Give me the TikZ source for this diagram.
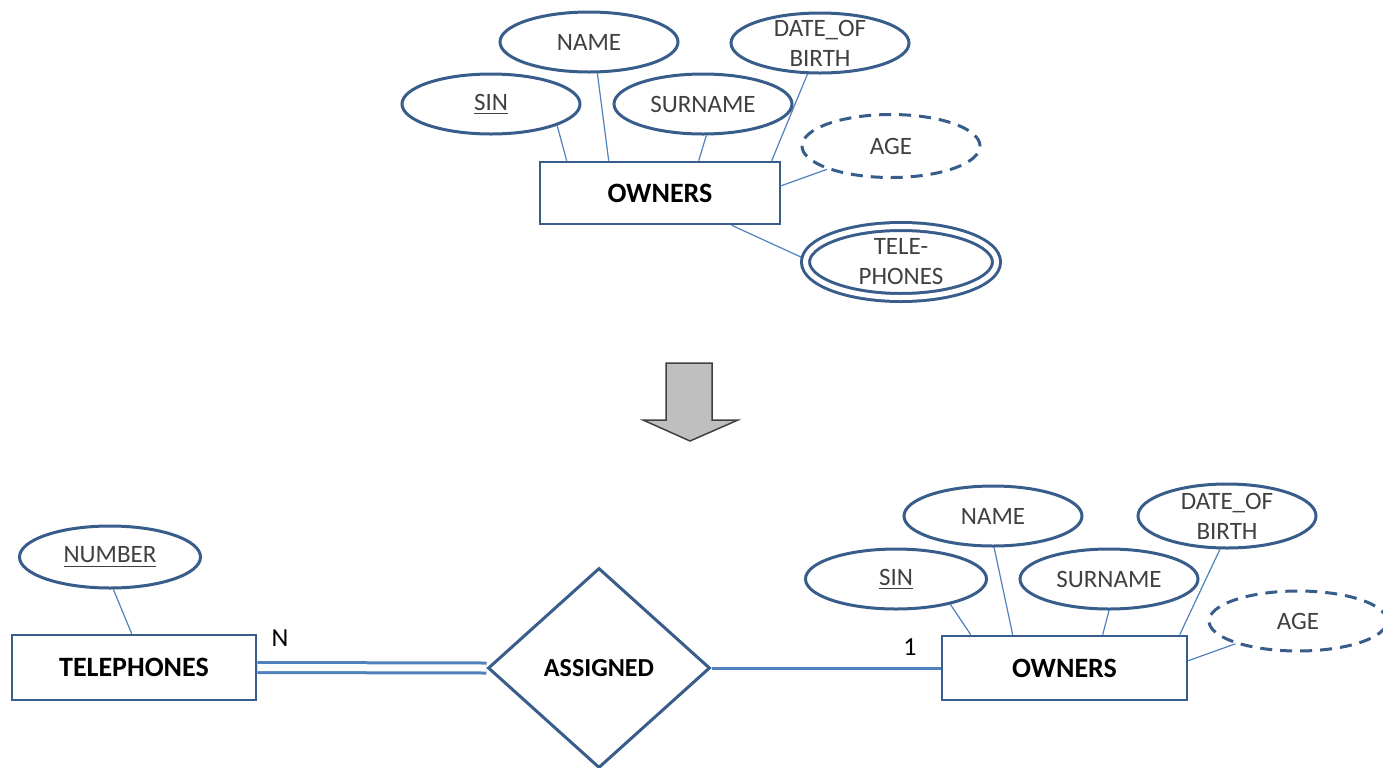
\documentclass[tikz,border=0pt]{standalone}
\usepackage{fontspec}
\setmainfont{Carlito}
\usetikzlibrary{shapes.geometric,calc,backgrounds}
\definecolor{edge}{RGB}{56,93,138}
\definecolor{conn}{RGB}{79,129,189}
\definecolor{attrtext}{RGB}{64,64,64}
\definecolor{arrowfill}{RGB}{191,191,191}
\definecolor{arrowline}{RGB}{64,64,64}
\begin{document}
\begin{tikzpicture}[x=0.5pt,y=-0.5pt,
  attr/.style={ellipse,draw=edge,line width=1.5pt,fill=white,minimum width=89pt,minimum height=30pt,
    inner xsep=0pt,inner ysep=-5pt,font=\fontsize{12.5}{15}\selectfont,text=attrtext,align=center},
  derived/.style={attr,dash pattern=on 6pt off 4pt},
  multi/.style={attr,double=white,double distance=2.5pt,line width=1.5pt},
  entity/.style={rectangle,draw=edge,line width=1.3pt,fill=white,inner sep=0pt,
    font=\bfseries\fontsize{14}{16}\selectfont,text=black},
  relship/.style={diamond,draw=edge,line width=1.5pt,fill=white,inner sep=0pt,
    font=\bfseries\fontsize{13}{15}\selectfont,text=black},
  link/.style={draw=conn,line width=0.6pt},
  relline/.style={draw=conn,line width=1.5pt},
  card/.style={font=\fontsize{13}{15}\selectfont,text=black,inner sep=0pt},
  bigarrow/.style={fill=arrowfill,draw=arrowline,line width=0.75pt,line join=miter}]
\useasboundingbox (0,0) rectangle (1383,767);
\clip (0,0) rectangle (1383,767);

% ---------- top diagram ----------
\node[attr] (sinA) at (491,104) {\underline{SIN}};
\node[attr] (nameA) at (589,42) {NAME};
\node[attr] (surA) at (703,104) {SURNAME};
\node[attr] (dobA) at (820,43) {DATE\_OF\\BIRTH};
\node[derived,minimum height=31.5pt] (ageA) at (891,146) {AGE};
\node[entity,minimum width=120pt,minimum height=31pt] (ownA) at (660,193) {OWNERS};
\node[multi,minimum width=95.5pt,minimum height=35.5pt] (telA) at (901,262) {TELE-\\PHONES};

% ---------- arrow ----------
\draw[bigarrow] (666,363) -- (712,363) -- (712,420) -- (738,420) -- (690,441) -- (643,420) -- (666,420) -- cycle;

% ---------- bottom diagram ----------
\node[attr,minimum width=90.5pt,minimum height=31pt] (numB) at (110,557) {\underline{NUMBER}};
\node[entity,minimum width=122pt,minimum height=32.5pt] (telB) at (134,667.5) {TELEPHONES};
\node[relship,minimum width=111pt,minimum height=100pt] (asg) at (599,668) {ASSIGNED};
\node[entity,minimum width=122.5pt,minimum height=32pt] (ownB) at (1064.5,668) {OWNERS};
\node[attr,minimum width=90.5pt] (sinB) at (896,579) {\underline{SIN}};
\node[attr] (nameB) at (993,516) {NAME};
\node[attr] (surB) at (1109,579) {SURNAME};
\node[attr,minimum height=32pt] (dobB) at (1227,516) {DATE\_OF\\BIRTH};
\node[derived] (ageB) at (1298,621) {AGE};
\node[card] (nlab) at (280,638) {N};
\node[card] (onelab) at (910,647) {1};

\begin{scope}[on background layer]
  \draw[link] (sinA.-18) -- ($(ownA.north west)+(28,0)$);
  \draw[link] (nameA.-75) -- ($(ownA.north west)+(70,0)$);
  \draw[link] (surA.-84) -- ($(ownA.north west)+(160,0)$);
  \draw[link] (dobA.-112) -- ($(ownA.north west)+(233,0)$);
  \draw[link] (ageA.-160) -- ($(ownA.north east)+(0,25)$);
  \draw[link] (telA.178) -- ($(ownA.south west)+(193,0)$);

  \draw[link] (numB.-84) -- ($(telB.north west)+(121,0)$);
  \draw[link] (sinB.-25) -- ($(ownB.north west)+(30,0)$);
  \draw[link] (nameB.-88) -- ($(ownB.north west)+(72,0)$);
  \draw[link] (surB.south) -- ($(ownB.north west)+(162,0)$);
  \draw[link] (dobB.-102) -- ($(ownB.north west)+(239,0)$);
  \draw[link] (ageB.-160) -- ($(ownB.north east)+(0,26)$);

  \draw[relline,double=white,double distance=3.5pt] (telB.east) -- (asg.west);
  \draw[relline] (asg.east) -- (ownB.west);
\end{scope}
\end{tikzpicture}
\end{document}
